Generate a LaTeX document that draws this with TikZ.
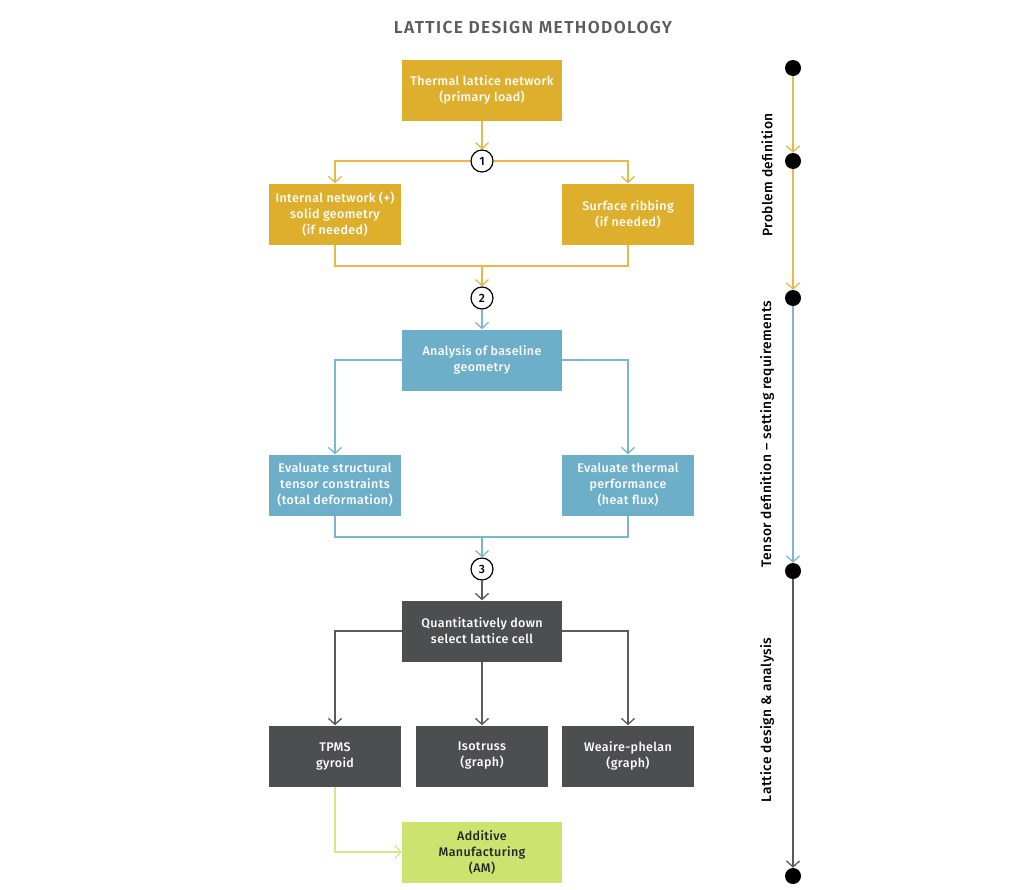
\documentclass[tikz,border=0pt]{standalone}
\usepackage{fontspec}
\setmainfont{Fira Sans Medium}[LetterSpace=3, BoldFont={Fira Sans SemiBold}]
\usetikzlibrary{arrows.meta, positioning, calc}
\usepackage{xcolor}
\definecolor{ldyellow}{HTML}{DEAF2D}
\definecolor{ldyellowline}{HTML}{E8B84A}
\definecolor{ldblue}{HTML}{6DAFC9}
\definecolor{ldblueline}{HTML}{7DB7CF}
\definecolor{ldgrey}{HTML}{4D4E50}
\definecolor{ldgreyline}{HTML}{5A5B5D}
\definecolor{ldgreen}{HTML}{CDE36F}
\definecolor{ldgreenline}{HTML}{D2E88C}
\definecolor{ldtitle}{HTML}{5B5C5E}

\begin{document}
\begin{tikzpicture}[
    x=1pt, y=-1pt,
    block/.style={
        rectangle,
        fill=#1,
        text=white,
        align=center,
        inner sep=0pt,
        minimum height=61pt,
        font=\fontsize{12.5}{16}\selectfont
    },
    wide/.style={minimum width=160pt},
    narrow/.style={minimum width=132pt},
    flow/.style={
        draw=#1,
        line width=1.3pt,
        -{Straight Barb[length=6pt, width=13pt]}
    },
    link/.style={
        draw=#1,
        line width=1.3pt
    },
    stage/.style={
        circle,
        draw=black,
        fill=white,
        line width=1.2pt,
        minimum size=22pt,
        inner sep=0pt,
        font=\fontsize{12}{13}\selectfont
    },
    milestone/.style={
        circle,
        fill=black,
        minimum size=16pt,
        inner sep=0pt
    },
    phase/.style={
        rotate=90,
        font=\fontsize{13.8}{15}\selectfont
    }
]
\useasboundingbox (0,0) rectangle (1024,889);

% Title
\node[font=\bfseries\fontsize{17.3}{19}\selectfont\addfontfeature{LetterSpace=8}, text=ldtitle] (title) at (533,28) {LATTICE DESIGN METHODOLOGY};

% Problem definition
\node[block=ldyellow, wide] (thermal) at (482,90) {Thermal lattice network\\(primary load)};
\node[stage] (s1) at (482,161) {1};
\node[block=ldyellow, narrow] (internal) at (335,214) {Internal network (+)\\solid geometry\\(if needed)};
\node[block=ldyellow, narrow] (surface) at (628,214) {Surface ribbing\\(if needed)};
\coordinate (j1) at (482,266);
\node[stage] (s2) at (482,298) {2};

% Tensor definition
\node[block=ldblue, wide] (analysis) at (482,360) {Analysis of baseline\\geometry};
\node[block=ldblue, narrow] (struct) at (335,485) {Evaluate structural\\tensor constraints\\(total deformation)};
\node[block=ldblue, narrow] (thermperf) at (628,485) {Evaluate thermal\\performance\\(heat flux)};
\coordinate (j2) at (482,537);
\node[stage] (s3) at (482,569) {3};

% Lattice design
\node[block=ldgrey, wide] (select) at (482,631) {Quantitatively down\\select lattice cell};
\node[block=ldgrey, narrow] (tpms) at (335,756) {TPMS\\gyroid};
\node[block=ldgrey, narrow] (isotruss) at (482,756) {Isotruss\\(graph)};
\node[block=ldgrey, narrow] (weaire) at (628,756) {Weaire-phelan\\(graph)};
\node[block=ldgreen, wide, text=black!85] (am) at (482,852) {Additive\\Manufacturing\\(AM)};

% Connectors
\draw[flow=ldyellowline] (thermal) -- (s1);
\draw[flow=ldyellowline] (s1) -| (internal);
\draw[flow=ldyellowline] (s1) -| (surface);
\draw[link=ldyellowline] (internal) |- (j1) -| (surface);
\draw[flow=ldyellowline] (j1) -- (s2);

\draw[flow=ldblueline] (s2) -- (analysis);
\draw[flow=ldblueline] (analysis) -| (struct);
\draw[flow=ldblueline] (analysis) -| (thermperf);
\draw[link=ldblueline] (struct) |- (j2) -| (thermperf);
\draw[flow=ldblueline] (j2) -- (s3);

\draw[flow=ldgreyline] (s3) -- (select);
\draw[flow=ldgreyline] (select) -| (tpms);
\draw[flow=ldgreyline] (select) -- (isotruss);
\draw[flow=ldgreyline] (select) -| (weaire);
\draw[flow=ldgreenline] (tpms) |- (am);

% Timeline
\node[milestone] (m1) at (793,68) {};
\node[milestone] (m2) at (793,161) {};
\node[milestone] (m3) at (793,298) {};
\node[milestone] (m4) at (793,571) {};
\node[milestone] (m5) at (793,876) {};
\draw[flow=ldyellowline] (m1) -- (m2);
\draw[flow=ldyellowline] (m2) -- (m3);
\draw[flow=ldblueline] (m3) -- (m4);
\draw[flow=ldgreyline] (m4) -- (m5);

% Phase labels
\node[phase] (p1) at (767,175) {Problem definition};
\node[phase] (p2) at (767,434) {Tensor definition – setting requirements};
\node[phase] (p3) at (767,720) {Lattice design \& analysis};

\end{tikzpicture}
\end{document}
